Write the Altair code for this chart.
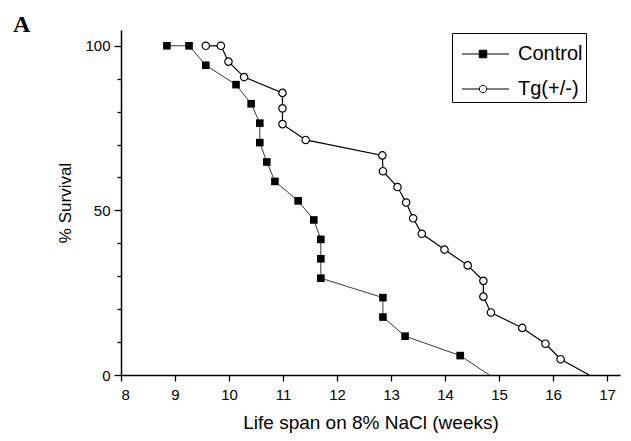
import altair as alt
import pandas as pd

# ---- data ----
series_names = ["Control", "Tg(+/-)"]

control_weeks = [8.85, 9.26, 9.57, 10.13, 10.41, 10.57, 10.57, 10.70, 10.85, 11.28,
                 11.57, 11.70, 11.70, 11.70, 12.85, 12.85, 13.26, 14.28, 14.82]
control_survival = [100, 100, 94.1, 88.2, 82.4, 76.5, 70.6, 64.7, 58.8, 52.9,
                    47.1, 41.2, 35.3, 29.4, 23.5, 17.6, 11.8, 5.9, 0]

tg_weeks = [9.57, 9.85, 9.99, 10.28, 10.99, 10.99, 10.99, 11.42, 12.84, 12.85,
            13.12, 13.28, 13.41, 13.57, 13.99, 14.42, 14.71, 14.71, 14.85, 15.43,
            15.86, 16.14, 16.67]
tg_survival = [100, 100, 95.2, 90.5, 85.7, 81.0, 76.2, 71.4, 66.7, 61.9,
               57.1, 52.4, 47.6, 42.9, 38.1, 33.3, 28.6, 23.8, 19.0, 14.3,
               9.5, 4.8, 0]

x_ticks = [8 + 0.5 * i for i in range(19)]
y_ticks = [10 * i for i in range(11)]

rows = []
for name, wk, sv in [(series_names[0], control_weeks, control_survival),
                     (series_names[1], tg_weeks, tg_survival)]:
    for i, (w, s) in enumerate(zip(wk, sv)):
        rows.append({"series": name, "weeks": w, "survival": s, "idx": i,
                     "marker": bool(s > 0)})
df = pd.DataFrame(rows)

FONT = "Liberation Sans"

x_enc = alt.X(
    "weeks:Q",
    scale=alt.Scale(domain=[8, 17.24], nice=False, zero=False),
    axis=alt.Axis(
        values=x_ticks,
        format="d",
        labelExpr="datum.value % 1 === 0 ? datum.label : ''",
        tickSize={"condition": {"test": "datum.value % 1 === 0", "value": 6}, "value": 3},
        labelPadding=6,
        labelFontSize=15,
        titleFontSize=19,
        titlePadding=11,
        labelOverlap=False,
    ),
    title="Life span on 8% NaCl (weeks)",
)
y_enc = alt.Y(
    "survival:Q",
    scale=alt.Scale(domain=[0, 104.8], nice=False),
    axis=alt.Axis(
        values=y_ticks,
        format="d",
        labelExpr="datum.value % 50 === 0 ? datum.label : ''",
        tickSize={"condition": {"test": "datum.value % 50 === 0", "value": 7}, "value": 4},
        labelPadding=4,
        labelFontSize=15,
        titleFontSize=17,
        titlePadding=10,
        labelOverlap=False,
    ),
    title="% Survival",
)

base = alt.Chart(df)

ctrl_line = base.transform_filter(alt.datum.series == "Control").mark_line(
    color="#222222", strokeWidth=0.9
).encode(x=x_enc, y=y_enc, order="idx:Q")

tg_line = base.transform_filter(alt.datum.series == "Tg(+/-)").mark_line(
    color="black", strokeWidth=1.2
).encode(x=x_enc, y=y_enc, order="idx:Q")

ctrl_pts = base.transform_filter(
    (alt.datum.series == "Control") & alt.datum.marker
).mark_point(shape="square", filled=True, color="black", size=58, opacity=1).encode(
    x=x_enc, y=y_enc
)

tg_pts = base.transform_filter(
    (alt.datum.series == "Tg(+/-)") & alt.datum.marker
).mark_point(shape="circle", filled=True, fill="white", stroke="black",
             strokeWidth=1.2, size=55, opacity=1).encode(x=x_enc, y=y_enc)

# legend glyphs: a line with the marker in its middle (unit = 8 px)
ctrl_path = "M-0.375,0H1.78M2.72,0H5.5M1.78,-0.47H2.72V0.47H1.78Z"
tg_path = ("M-0.375,0H1.79M2.71,0H5.5M1.79,0A0.46,0.46,0,1,0,2.71,0"
           "A0.46,0.46,0,1,0,1.79,0Z")

leg = alt.Legend(
    orient="none", legendX=331, legendY=3, title=" ",
    titleFontSize=2, titlePadding=6,
    strokeColor="black", padding=3, symbolSize=256,
    symbolStrokeWidth=1, symbolOpacity=1,
    labelFont=FONT, labelFontSize=20, labelColor="black",
    labelOffset=43, rowPadding=15,
)

legend_layer = base.transform_filter("false").mark_point(filled=False, opacity=1, strokeWidth=1).encode(
    x=x_enc, y=y_enc,
    shape=alt.Shape("series:N", scale=alt.Scale(domain=series_names, range=[ctrl_path, tg_path]), legend=leg),
    fill=alt.Fill("series:N", scale=alt.Scale(domain=series_names, range=["black", "white"]), legend=leg),
    stroke=alt.Stroke("series:N", scale=alt.Scale(domain=series_names, range=["black", "black"]), legend=leg),
)

chart = alt.layer(ctrl_line, tg_line, ctrl_pts, tg_pts, legend_layer).properties(
    width=499, height=345,
    autosize="none",
    padding={"left": 113, "top": 22, "right": 3, "bottom": 58},
    title=alt.TitleParams("A", anchor="start", frame="group", font="Liberation Serif",
                          fontSize=24, fontWeight="bold", color="black", dx=-108, dy=11),
).configure_view(stroke=None).configure_axis(
    grid=False, domainColor="black", domainWidth=1.5, tickColor="black", tickWidth=1.3,
    labelFont=FONT, labelColor="black", titleFont=FONT, titleColor="black",
    titleFontWeight="normal",
)

chart.save("out.html", embed_options={"renderer": "svg", "actions": False})
